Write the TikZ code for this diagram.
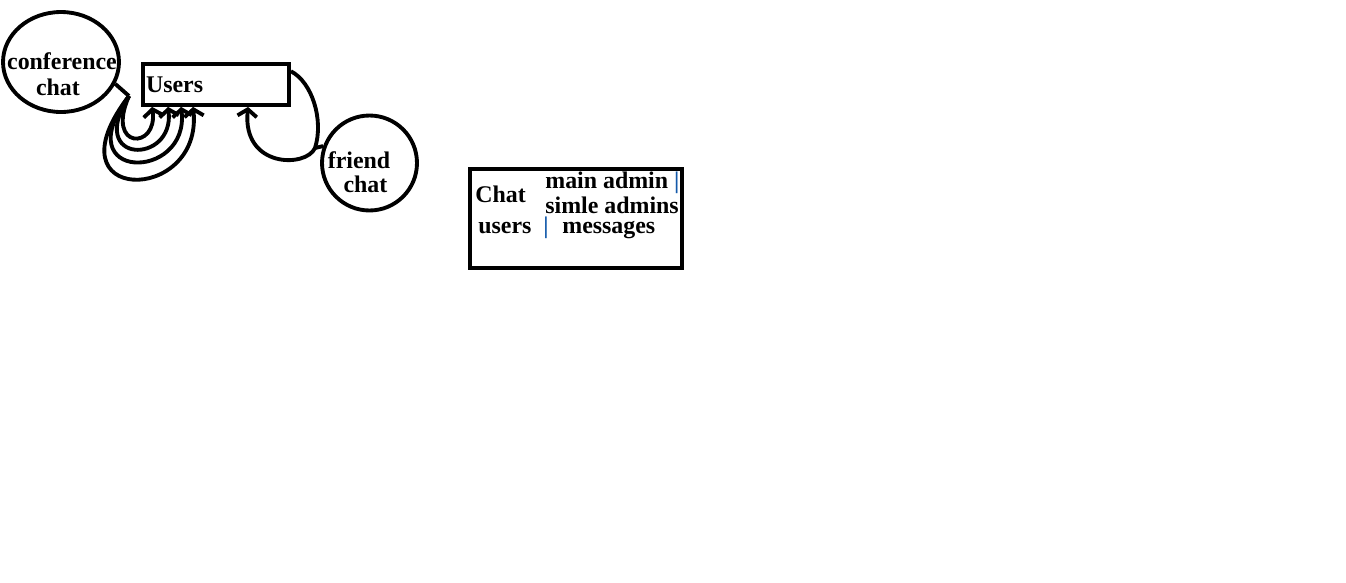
\documentclass[tikz,border=0pt]{standalone}
\usepackage{fontspec}
\setmainfont{Liberation Serif}
\usetikzlibrary{arrows.meta,shapes.geometric,calc}
\definecolor{barblue}{RGB}{20,90,170}

\begin{document}
\begin{tikzpicture}[x=0.02cm,y=-0.02cm,
	font=\bfseries\fontsize{13.6pt}{14.7pt}\selectfont,
	thickline/.style={line width=2.2pt},
	arr/.style={thickline,-{Straight Barb[length=4pt,width=11pt]}},
	lbl/.style={inner sep=0pt}]
	\useasboundingbox (0,0) rectangle (1346,582);
	% conference chat
	\node[ellipse,draw,thickline,minimum width=2.32cm,minimum height=2cm,inner sep=0pt] (conf) at (61,62) {};
	\node[lbl,anchor=base] (conftop) at (62,69) {conference};
	\node[lbl,anchor=base] (confbot) at (58,95) {chat};
	% users
	\node[draw,thickline,text width=2.8cm,inner sep=0.06cm,minimum height=0.82cm,align=left] (users) at (216,84.5) {Users};
	% friend chat
	\node[circle,draw,thickline,minimum size=1.9cm,inner sep=0pt] (friend) at (369.5,163) {};
	\node[lbl,anchor=base] (friendtop) at (359,168) {friend};
	\node[lbl,anchor=base] (friendbot) at (365.5,192) {chat};
	% chat
	\node[draw,thickline,minimum width=4.24cm,minimum height=1.98cm] (chat) at (576,218.5) {};
	\node[lbl,anchor=base west] (chatname) at (475,202) {Chat};
	\node[lbl,anchor=base west] (chatusers) at (478,233) {users};
	\node[lbl,anchor=base west,text=barblue] (chatbar) at (543,233) {|};
	\node[lbl,anchor=base west] (chatmsg) at (562,233) {messages};
	\node[lbl,anchor=base west] (chatmain) at (545,188) {main admin {\color{barblue}|}};
	\node[lbl,anchor=base west] (chatsimle) at (545,213) {simle admins};

	% loops
	\coordinate (cjoin) at (129,96);
	\draw[thickline] (conf.-22) -- (cjoin);
	\foreach \lx/\rx/\by/\tx in {105/158/150/11, 85/175/165/27, 65/190/182/40, 45/203/205/52}{
		\draw[arr] (cjoin) .. controls (\lx,\by) and (\rx,\by) .. ($(users.south west)+(\tx,0)$);
	}
	\coordinate (fjoin) at (315,148);
	\draw[arr] (users.10) .. controls (312,82) and (324,120) .. (fjoin) .. controls (306,168) and (242,168) .. ($(users.south west)+(107,0)$);
	\draw[thickline] (friend.160) -- (fjoin);
\end{tikzpicture}
\end{document}
